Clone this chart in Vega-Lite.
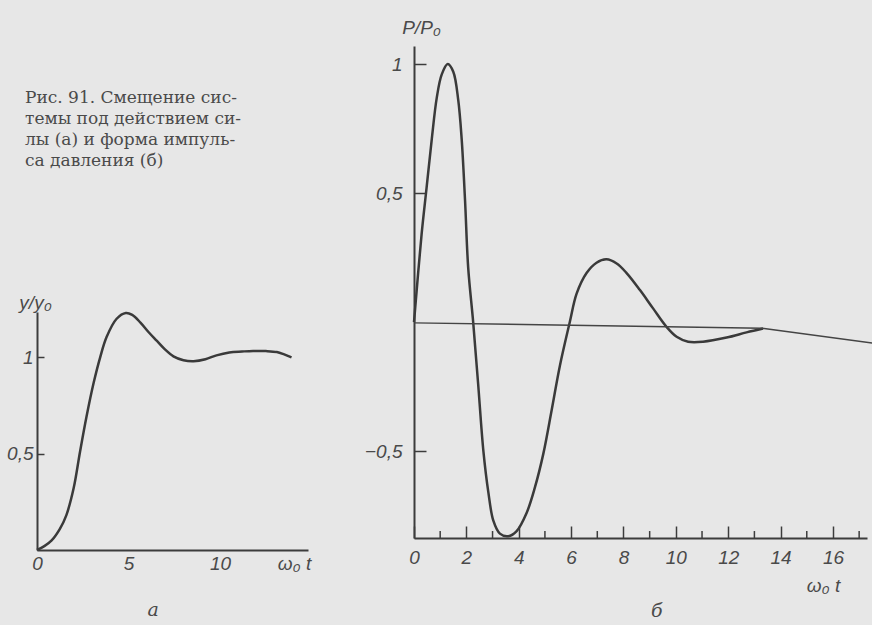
{
  "$schema": "https://vega.github.io/schema/vega-lite/v6.json",
  "width": 872,
  "height": 625,
  "padding": 0,
  "autosize": {"type": "none"},
  "background": "#e7e7e7",
  "config": {
    "view": {"stroke": null},
    "axis": {
      "grid": false,
      "domainColor": "#3c3c3c",
      "domainWidth": 2,
      "tickColor": "#3c3c3c",
      "tickWidth": 1.5,
      "labelColor": "#4a4a4a",
      "titleColor": "#4a4a4a",
      "labelFont": "Liberation Sans",
      "titleFont": "Liberation Sans",
      "labelFontStyle": "italic",
      "titleFontStyle": "italic",
      "labelFontSize": 19,
      "titleFontSize": 19,
      "titleFontWeight": "normal",
      "labelFlush": false,
      "labelOverlap": false,
      "format": ".2~f"
    }
  },
  "datasets": {
    "dispA": [
      {"t": 0, "y": 0}, {"t": 0.4, "y": 0.02}, {"t": 0.8, "y": 0.05}, {"t": 1.25, "y": 0.11},
      {"t": 1.6, "y": 0.18}, {"t": 2.0, "y": 0.32}, {"t": 2.35, "y": 0.51}, {"t": 2.7, "y": 0.69},
      {"t": 3.1, "y": 0.87}, {"t": 3.45, "y": 1.0}, {"t": 3.8, "y": 1.105}, {"t": 4.35, "y": 1.2},
      {"t": 4.85, "y": 1.23}, {"t": 5.2, "y": 1.22}, {"t": 5.65, "y": 1.18}, {"t": 6.1, "y": 1.13},
      {"t": 6.55, "y": 1.085}, {"t": 7.0, "y": 1.04}, {"t": 7.45, "y": 1.005}, {"t": 8.0, "y": 0.985},
      {"t": 8.55, "y": 0.98}, {"t": 9.2, "y": 0.99}, {"t": 9.8, "y": 1.01}, {"t": 10.5, "y": 1.025},
      {"t": 11.2, "y": 1.03}, {"t": 11.8, "y": 1.033}, {"t": 12.5, "y": 1.032}, {"t": 13.1, "y": 1.027},
      {"t": 13.5, "y": 1.015}, {"t": 13.9, "y": 1.0}
    ],
    "pulseB": [
      {"t": 0, "p": 0}, {"t": 0.29, "p": 0.34}, {"t": 0.48, "p": 0.52}, {"t": 0.68, "p": 0.71},
      {"t": 0.87, "p": 0.87}, {"t": 1.06, "p": 0.96}, {"t": 1.29, "p": 1.0}, {"t": 1.5, "p": 0.97},
      {"t": 1.69, "p": 0.86}, {"t": 1.82, "p": 0.71}, {"t": 1.95, "p": 0.47}, {"t": 2.07, "p": 0.21},
      {"t": 2.26, "p": 0}, {"t": 2.45, "p": -0.24}, {"t": 2.65, "p": -0.5}, {"t": 2.84, "p": -0.66},
      {"t": 3.03, "p": -0.77}, {"t": 3.28, "p": -0.82}, {"t": 3.6, "p": -0.83}, {"t": 3.92, "p": -0.81},
      {"t": 4.3, "p": -0.74}, {"t": 4.62, "p": -0.64}, {"t": 4.94, "p": -0.51}, {"t": 5.26, "p": -0.34},
      {"t": 5.57, "p": -0.17}, {"t": 5.95, "p": 0}, {"t": 6.21, "p": 0.11}, {"t": 6.59, "p": 0.19},
      {"t": 6.97, "p": 0.23}, {"t": 7.35, "p": 0.243}, {"t": 7.74, "p": 0.227}, {"t": 8.12, "p": 0.19},
      {"t": 8.63, "p": 0.124}, {"t": 9.13, "p": 0.053}, {"t": 9.64, "p": -0.018}, {"t": 10.03, "p": -0.057},
      {"t": 10.47, "p": -0.076}, {"t": 11.04, "p": -0.076}, {"t": 11.94, "p": -0.06}, {"t": 12.7, "p": -0.04},
      {"t": 13.33, "p": -0.025}
    ],
    "baseB": [
      {"t": 0, "p": -0.003}, {"t": 13.3, "p": -0.024}, {"t": 17.5, "p": -0.081}
    ],
    "minorB": [
      {"t": 1}, {"t": 3}, {"t": 5}, {"t": 7}, {"t": 9}, {"t": 11}, {"t": 13}, {"t": 15}, {"t": 17}
    ],
    "caption": [
      {"text": "Рис. 91. Смещение сис-\nтемы  под  действием  си-\nлы  (а) и форма  импуль-\nса давления  (б)"}
    ],
    "panelA": [{"text": "а"}],
    "panelB": [{"text": "б"}]
  },
  "layer": [
    {
      "layer": [
        {
          "data": {"name": "dispA"},
          "mark": {"type": "line", "interpolate": "catmull-rom", "color": "#3a3a3a", "strokeWidth": 2.5},
          "encoding": {
            "x": {
              "field": "t", "type": "quantitative",
              "scale": {"domain": [0, 14.8], "range": [37, 308], "nice": false, "zero": false},
              "axis": {
                "orient": "bottom", "offset": -75, "values": [0, 5, 10],
                "tickSize": 0, "labelPadding": 13, "labelBaseline": "middle",
                "title": "ω₀ t", "titleX": 294, "titleY": 13, "titleAlign": "center",
                "titleBaseline": "middle", "titleAngle": 0
              }
            },
            "y": {
              "field": "y", "type": "quantitative",
              "scale": {"domain": [0, 1.235], "range": [550, 312], "nice": false, "zero": false},
              "axis": {
                "orient": "left", "offset": -37, "values": [0.5, 1],
                "tickSize": -7, "labelPadding": 11, "labelAlign": "right", "labelBaseline": "middle",
                "labelExpr": "replace(datum.label, '.', ',')",
                "title": "y/y₀", "titleAngle": 0, "titleX": -2, "titleY": 302,
                "titleAlign": "center", "titleBaseline": "middle"
              }
            }
          }
        },
        {
          "data": {"name": "caption"},
          "mark": {"type": "text", "align": "left", "baseline": "alphabetic", "lineBreak": "\n", "lineHeight": 21, "font": "DejaVu Serif", "fontSize": 17, "color": "#4a4a4a"},
          "encoding": {
            "x": {"datum": -0.656, "type": "quantitative"},
            "y": {"datum": 2.32, "type": "quantitative"},
            "text": {"field": "text"}
          }
        },
        {
          "data": {"name": "panelA"},
          "mark": {"type": "text", "align": "center", "baseline": "middle", "font": "DejaVu Serif", "fontStyle": "italic", "fontSize": 19, "color": "#4a4a4a"},
          "encoding": {
            "x": {"datum": 6.34, "type": "quantitative"},
            "y": {"datum": -0.311, "type": "quantitative"},
            "text": {"field": "text"}
          }
        }
      ]
    },
    {
      "layer": [
        {
          "data": {"name": "pulseB"},
          "mark": {"type": "line", "interpolate": "catmull-rom", "color": "#3a3a3a", "strokeWidth": 2.5},
          "encoding": {
            "x": {
              "field": "t", "type": "quantitative",
              "scale": {"domain": [0, 17.3], "range": [414, 867], "nice": false, "zero": false},
              "axis": {
                "orient": "bottom", "offset": -87, "values": [0, 2, 4, 6, 8, 10, 12, 14, 16],
                "tickSize": -12, "labelPadding": 31, "labelBaseline": "middle",
                "title": "ω₀ t", "titleX": 823, "titleY": 47, "titleAlign": "center",
                "titleBaseline": "middle", "titleAngle": 0
              }
            },
            "y": {
              "field": "p", "type": "quantitative",
              "scale": {"domain": [-0.837, 1.07], "range": [538, 46], "nice": false, "zero": false},
              "axis": {
                "orient": "left", "offset": -414, "values": [-0.5, 0.5, 1],
                "tickSize": -12, "labelPadding": 24, "labelAlign": "right", "labelBaseline": "middle",
                "labelExpr": "replace(datum.label, '.', ',')",
                "title": "P/P₀", "titleAngle": 0, "titleX": 7, "titleY": 27,
                "titleAlign": "center", "titleBaseline": "middle"
              }
            }
          }
        },
        {
          "data": {"name": "baseB"},
          "mark": {"type": "line", "interpolate": "linear", "color": "#444444", "strokeWidth": 1.4},
          "encoding": {
            "x": {"field": "t", "type": "quantitative"},
            "y": {"field": "p", "type": "quantitative"}
          }
        },
        {
          "data": {"name": "minorB"},
          "mark": {"type": "rule", "color": "#3c3c3c", "strokeWidth": 1.5},
          "encoding": {
            "x": {"field": "t", "type": "quantitative"},
            "y": {"datum": -0.837, "type": "quantitative"},
            "y2": {"datum": -0.81}
          }
        },
        {
          "data": {"name": "panelB"},
          "mark": {"type": "text", "align": "center", "baseline": "middle", "font": "DejaVu Serif", "fontStyle": "italic", "fontSize": 19, "color": "#4a4a4a"},
          "encoding": {
            "x": {"datum": 9.27, "type": "quantitative"},
            "y": {"datum": -1.12, "type": "quantitative"},
            "text": {"field": "text"}
          }
        }
      ]
    }
  ],
  "resolve": {"scale": {"x": "independent", "y": "independent"}}
}
